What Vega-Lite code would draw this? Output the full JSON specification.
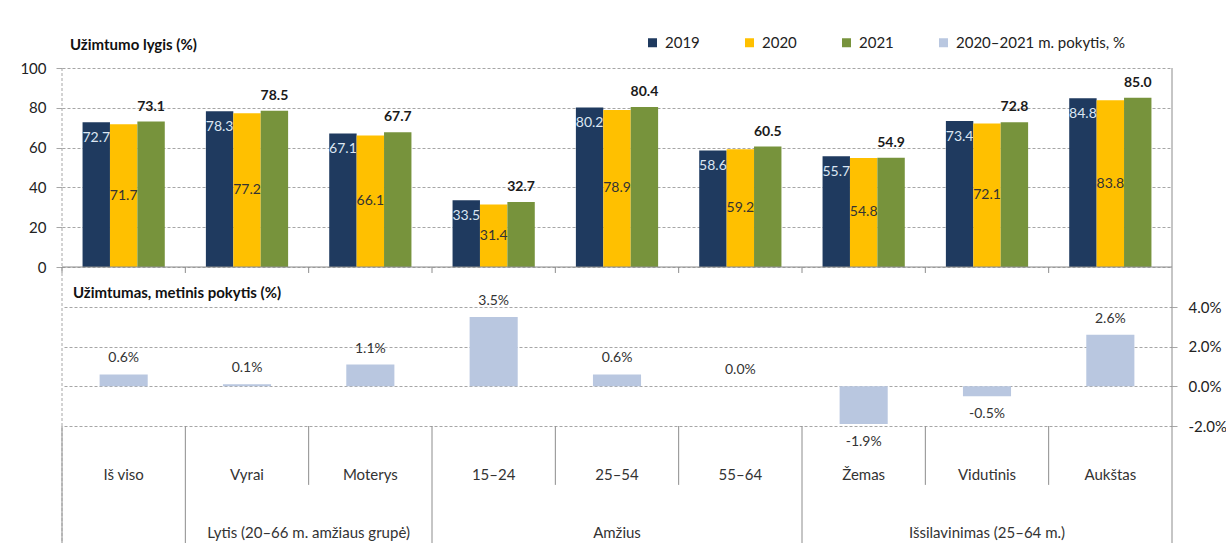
{
  "$schema": "https://vega.github.io/schema/vega-lite/v6.json",
  "width": 1110,
  "height": 475,
  "autosize": {"type": "none"},
  "padding": {"left": 62, "top": 68, "right": 54, "bottom": 0},
  "background": "white",
  "config": {
    "view": {"stroke": null},
    "font": "Lato",
    "locale": {"number": {"decimal": ".", "thousands": ",", "grouping": [3], "currency": ["", ""], "minus": "-"}}
  },
  "datasets": {
    "emp": [
      {"cat": "Iš viso", "year": "2019", "v": 72.7}, {"cat": "Iš viso", "year": "2020", "v": 71.7}, {"cat": "Iš viso", "year": "2021", "v": 73.1},
      {"cat": "Vyrai", "year": "2019", "v": 78.3}, {"cat": "Vyrai", "year": "2020", "v": 77.2}, {"cat": "Vyrai", "year": "2021", "v": 78.5},
      {"cat": "Moterys", "year": "2019", "v": 67.1}, {"cat": "Moterys", "year": "2020", "v": 66.1}, {"cat": "Moterys", "year": "2021", "v": 67.7},
      {"cat": "15–24", "year": "2019", "v": 33.5}, {"cat": "15–24", "year": "2020", "v": 31.4}, {"cat": "15–24", "year": "2021", "v": 32.7},
      {"cat": "25–54", "year": "2019", "v": 80.2}, {"cat": "25–54", "year": "2020", "v": 78.9}, {"cat": "25–54", "year": "2021", "v": 80.4},
      {"cat": "55–64", "year": "2019", "v": 58.6}, {"cat": "55–64", "year": "2020", "v": 59.2}, {"cat": "55–64", "year": "2021", "v": 60.5},
      {"cat": "Žemas", "year": "2019", "v": 55.7}, {"cat": "Žemas", "year": "2020", "v": 54.8}, {"cat": "Žemas", "year": "2021", "v": 54.9},
      {"cat": "Vidutinis", "year": "2019", "v": 73.4}, {"cat": "Vidutinis", "year": "2020", "v": 72.1}, {"cat": "Vidutinis", "year": "2021", "v": 72.8},
      {"cat": "Aukštas", "year": "2019", "v": 84.8}, {"cat": "Aukštas", "year": "2020", "v": 83.8}, {"cat": "Aukštas", "year": "2021", "v": 85.0}
    ],
    "chg": [
      {"cat": "Iš viso", "chg": 0.006}, {"cat": "Vyrai", "chg": 0.001}, {"cat": "Moterys", "chg": 0.011},
      {"cat": "15–24", "chg": 0.035}, {"cat": "25–54", "chg": 0.006}, {"cat": "55–64", "chg": 0.0},
      {"cat": "Žemas", "chg": -0.019}, {"cat": "Vidutinis", "chg": -0.005}, {"cat": "Aukštas", "chg": 0.026}
    ],
    "cats": [
      {"cat": "Iš viso"}, {"cat": "Vyrai"}, {"cat": "Moterys"}, {"cat": "15–24"}, {"cat": "25–54"},
      {"cat": "55–64"}, {"cat": "Žemas"}, {"cat": "Vidutinis"}, {"cat": "Aukštas"}
    ]
  },
  "layer": [
    {
      "data": {"name": "emp"},
      "layer": [
        {
          "mark": {"type": "bar"},
          "encoding": {
            "x": {"field": "cat", "type": "nominal", "scale": {"domain": ["Iš viso", "Vyrai", "Moterys", "15–24", "25–54", "55–64", "Žemas", "Vidutinis", "Aukštas"], "paddingInner": 0, "paddingOuter": 0}, "axis": null},
            "xOffset": {"field": "year", "type": "nominal", "scale": {"domain": ["2019", "2020", "2021"], "paddingInner": 0, "paddingOuter": 0.75}},
            "y": {"field": "v", "type": "quantitative", "scale": {"domain": [0, 100], "range": [199, 0], "nice": false},
              "axis": {"orient": "left", "values": [0, 20, 40, 60, 80, 100], "title": null, "grid": true, "gridDash": [3, 2], "gridColor": "#a6a6a6", "domain": false, "ticks": true, "tickSize": 6, "tickColor": "#a6a6a6", "labelPadding": 10, "labelFontSize": 15, "labelColor": "#222222", "labelFont": "Lato"}},
            "color": {"field": "year", "type": "nominal",
              "scale": {"domain": ["2019", "2020", "2021", "2020–2021 m. pokytis, %"], "range": ["#1F3A5F", "#FFC000", "#77933C", "#B9C7E0"]},
              "legend": {"orient": "none", "legendX": 583, "legendY": -33, "direction": "horizontal", "title": null, "symbolType": "square", "symbolSize": 81, "symbolStrokeWidth": 0, "labelFontSize": 15, "labelFont": "Lato", "labelColor": "#222222", "labelLimit": 400, "columnPadding": 42, "labelOffset": 5}}
          }
        },
        {
          "transform": [{"filter": "datum.year === '2019'"}],
          "mark": {"type": "text", "baseline": "middle", "dy": 16, "fontSize": 14, "color": "#DCE6F2"},
          "encoding": {
            "x": {"field": "cat", "type": "nominal", "axis": null},
            "xOffset": {"field": "year", "type": "nominal"},
            "y": {"field": "v", "type": "quantitative"},
            "text": {"field": "v", "type": "quantitative", "format": ".1f"}
          }
        },
        {
          "transform": [{"filter": "datum.year === '2021'"}],
          "mark": {"type": "text", "baseline": "middle", "dy": -15, "fontSize": 14, "fontWeight": "bold", "color": "#1a1a1a"},
          "encoding": {
            "x": {"field": "cat", "type": "nominal", "axis": null},
            "xOffset": {"field": "year", "type": "nominal"},
            "y": {"field": "v", "type": "quantitative"},
            "text": {"field": "v", "type": "quantitative", "format": ".1f"}
          }
        },
        {
          "data": {"values": [{"cat": "Iš viso", "t": "Užimtumo lygis (%)"}]},
          "mark": {"type": "text", "align": "left", "baseline": "middle", "dx": 8, "fontSize": 15, "fontWeight": "bold", "color": "#111111"},
          "encoding": {
            "x": {"field": "cat", "type": "nominal", "bandPosition": 0, "axis": null},
            "y": {"datum": 111.6},
            "text": {"field": "t"}
          }
        },
        {
          "data": {"values": [{"base": 0}]},
          "mark": {"type": "rule", "color": "#8c8c8c", "strokeWidth": 1},
          "encoding": {"y": {"field": "base", "type": "quantitative"}}
        },
        {
          "data": {"name": "cats"},
          "mark": {"type": "rule", "color": "#8c8c8c", "strokeWidth": 1},
          "encoding": {
            "x": {"field": "cat", "type": "nominal", "bandPosition": 0, "axis": null},
            "y": {"datum": 0},
            "y2": {"datum": -3}
          }
        }
      ]
    },
    {
      "data": {"name": "emp"},
      "transform": [{"filter": "datum.year === '2020'"}],
      "mark": {"type": "text", "baseline": "middle", "fontSize": 14, "color": "#333333"},
      "encoding": {
        "x": {"field": "cat", "type": "nominal", "axis": null},
        "xOffset": {"field": "year", "type": "nominal"},
        "y": {"field": "v", "type": "quantitative", "scale": {"domain": [0, 200], "range": [199, 0], "nice": false}, "axis": null},
        "text": {"field": "v", "type": "quantitative", "format": ".1f"}
      }
    },
    {
      "layer": [
        {
          "data": {"name": "chg"},
          "mark": {"type": "bar", "width": {"band": 0.39}},
          "encoding": {
            "x": {"field": "cat", "type": "nominal", "axis": null},
            "y": {"field": "chg", "type": "quantitative", "scale": {"domain": [-0.02, 0.04], "range": [358, 239], "nice": false},
              "axis": {"orient": "right", "values": [-0.02, 0, 0.02, 0.04], "format": ".1%", "title": null, "grid": true, "gridDash": [3, 2], "gridColor": "#a6a6a6", "domain": false, "ticks": true, "tickSize": 5, "tickColor": "#a6a6a6", "labelPadding": 11, "labelFontSize": 15, "labelColor": "#222222", "labelFont": "Lato"}},
            "color": {"datum": "2020–2021 m. pokytis, %", "type": "nominal"}
          }
        },
        {
          "data": {"name": "chg"},
          "transform": [{"filter": "datum.chg >= 0"}],
          "mark": {"type": "text", "baseline": "middle", "dy": -16, "fontSize": 14, "color": "#333333"},
          "encoding": {
            "x": {"field": "cat", "type": "nominal", "axis": null},
            "y": {"field": "chg", "type": "quantitative"},
            "text": {"field": "chg", "type": "quantitative", "format": ".1%"}
          }
        },
        {
          "data": {"name": "chg"},
          "transform": [{"filter": "datum.chg < 0"}],
          "mark": {"type": "text", "baseline": "middle", "dy": 18, "fontSize": 14, "color": "#333333"},
          "encoding": {
            "x": {"field": "cat", "type": "nominal", "axis": null},
            "y": {"field": "chg", "type": "quantitative"},
            "text": {"field": "chg", "type": "quantitative", "format": ".1%"}
          }
        },
        {
          "data": {"values": [{"cat": "Iš viso", "t": "Užimtumas, metinis pokytis (%)"}]},
          "mark": {"type": "text", "align": "left", "baseline": "middle", "dx": 11, "fontSize": 15, "fontWeight": "bold", "color": "#111111"},
          "encoding": {
            "x": {"field": "cat", "type": "nominal", "bandPosition": 0, "axis": null},
            "y": {"datum": 0.047},
            "text": {"field": "t"}
          }
        },
        {
          "data": {"name": "cats"},
          "mark": {"type": "text", "baseline": "middle", "fontSize": 15, "color": "#333333"},
          "encoding": {
            "x": {"field": "cat", "type": "nominal", "axis": null},
            "y": {"datum": -0.0447},
            "text": {"field": "cat"}
          }
        },
        {
          "data": {"values": [{"cat": "Moterys", "t": "Lytis (20–66 m. amžiaus grupė)"}]},
          "mark": {"type": "text", "baseline": "middle", "fontSize": 15, "color": "#333333"},
          "encoding": {
            "x": {"field": "cat", "type": "nominal", "bandPosition": 0, "axis": null},
            "y": {"datum": -0.074},
            "text": {"field": "t"}
          }
        },
        {
          "data": {"values": [{"cat": "25–54", "t": "Amžius"}, {"cat": "Vidutinis", "t": "Išsilavinimas (25–64 m.)"}]},
          "mark": {"type": "text", "baseline": "middle", "fontSize": 15, "color": "#333333"},
          "encoding": {
            "x": {"field": "cat", "type": "nominal", "axis": null},
            "y": {"datum": -0.074},
            "text": {"field": "t"}
          }
        },
        {
          "data": {"values": [{"cat": "Iš viso"}, {"cat": "Vyrai"}, {"cat": "15–24"}, {"cat": "Žemas"}]},
          "mark": {"type": "rule", "color": "#8c8c8c", "strokeWidth": 1},
          "encoding": {
            "x": {"field": "cat", "type": "nominal", "bandPosition": 0, "axis": null},
            "y": {"datum": -0.02},
            "y2": {"datum": -0.09}
          }
        },
        {
          "data": {"values": [{"cat": "Moterys"}, {"cat": "25–54"}, {"cat": "55–64"}, {"cat": "Vidutinis"}, {"cat": "Aukštas"}]},
          "mark": {"type": "rule", "color": "#8c8c8c", "strokeWidth": 1},
          "encoding": {
            "x": {"field": "cat", "type": "nominal", "bandPosition": 0, "axis": null},
            "y": {"datum": -0.02},
            "y2": {"datum": -0.0497}
          }
        }
      ]
    },
    {
      "data": {"values": [{"cat": "Iš viso"}]},
      "mark": {"type": "rule", "color": "#a6a6a6", "strokeWidth": 1, "strokeDash": [3, 2]},
      "encoding": {"x": {"field": "cat", "type": "nominal", "bandPosition": 0, "axis": null}}
    },
    {
      "data": {"values": [{"cat": "Aukštas"}]},
      "mark": {"type": "rule", "color": "#8c8c8c", "strokeWidth": 1},
      "encoding": {"x": {"field": "cat", "type": "nominal", "bandPosition": 1, "axis": null}}
    }
  ],
  "resolve": {"scale": {"y": "independent"}, "axis": {"y": "independent"}}
}
